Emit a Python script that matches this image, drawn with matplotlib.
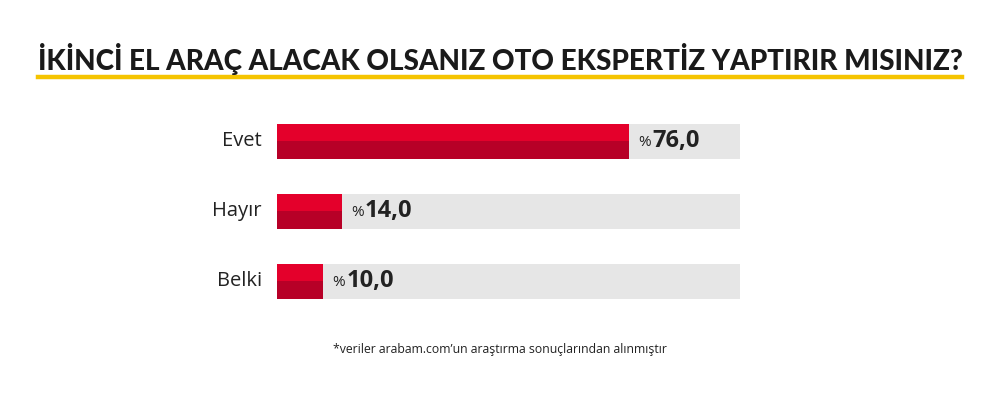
import matplotlib
matplotlib.use("Agg")

import matplotlib.pyplot as plt
import matplotlib.transforms as mtransforms
import numpy as np

# chart data
categories = ["Evet", "Hayır", "Belki"]
values = [76.0, 14.0, 10.0]
title = "İKİNCİ EL ARAÇ ALACAK OLSANIZ OTO EKSPERTİZ YAPTIRIR MISINIZ?"
footnote = "*veriler arabam.com’un araştırma sonuçlarından alınmıştır"

W, H = 1000, 398
fig = plt.figure(figsize=(W / 100, H / 100), dpi=100)
fig.patch.set_facecolor("white")

# axes spans the bar track horizontally and the whole figure vertically
ax = fig.add_axes([277 / W, 0, 463 / W, 1])
ax.set_xlim(0, 100)
row_gap = 70
first_row = 141
ax.set_ylim((H - first_row) / row_gap, -first_row / row_gap)
ax.axis("off")

y = np.arange(len(categories))
bar_h = 0.5
ax.barh(y, [100] * len(y), height=bar_h, color="#E6E6E6", zorder=1)
ax.barh(y - bar_h / 4, values, height=bar_h / 2, color="#E4002B", zorder=2)
ax.barh(y + bar_h / 4, values, height=bar_h / 2, color="#B70027", zorder=2)

for yi, cat, v in zip(y, categories, values):
    ax.annotate(cat, xy=(0, yi), xytext=(-15, 0), textcoords="offset pixels",
                ha="right", va="center", fontsize=14.5, color="#222222",
                family="Open Sans")
    base = ax.transData
    t1 = mtransforms.offset_copy(base, fig=fig, x=9, y=-1, units="dots")
    ax.text(v, yi, "%", transform=t1, ha="left", va="center",
            fontsize=11, color="#222222", family="Open Sans")
    t2 = mtransforms.offset_copy(base, fig=fig, x=23, y=0, units="dots")
    ax.text(v, yi, f"{v:.1f}".replace(".", ","), transform=t2, ha="left",
            va="center", fontsize=17, fontweight="bold", color="#222222",
            family="Open Sans")

# title and yellow underline
fig.text(0.5, 1 - 59 / H, title, ha="center", va="center", fontsize=20.1,
         fontweight="black", color="#1a1a1a", family="Lato")
fig.add_artist(plt.Line2D([38 / W, 962 / W], [1 - 77 / H, 1 - 77 / H],
                          color="#F5C400", linewidth=3.2))

fig.text(0.5, 1 - 350 / H, footnote, ha="center", va="center", fontsize=8.8,
         color="#222222", family="Open Sans")

fig.savefig("out.png", dpi=100, facecolor="white")
